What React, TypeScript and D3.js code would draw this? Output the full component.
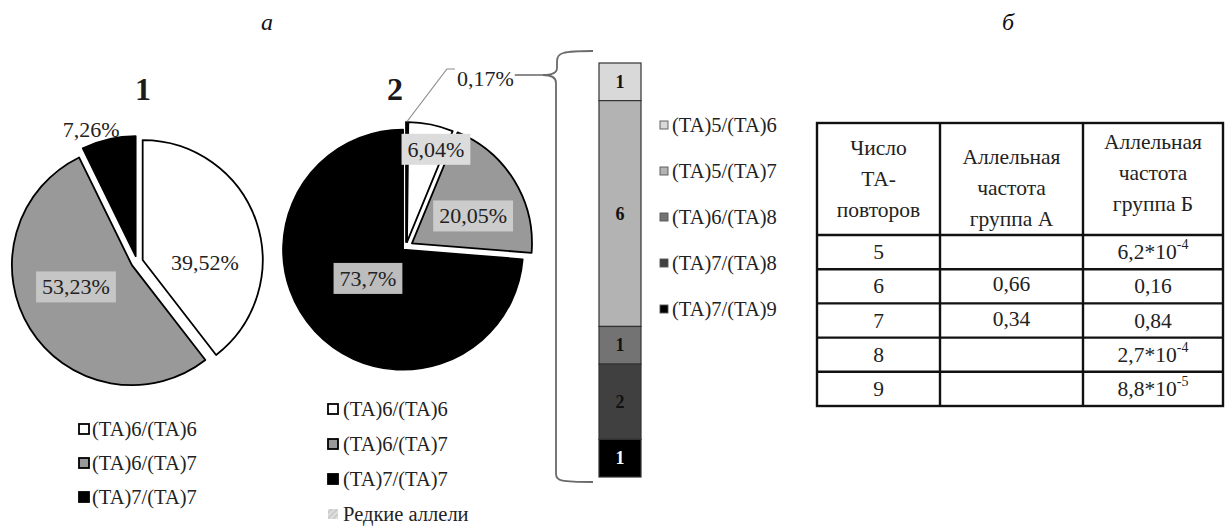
import React from "react";
import * as d3 from "d3";

// ---- data ----
const pie1Labels = ["(TA)6/(TA)6", "(TA)6/(TA)7", "(TA)7/(TA)7"];
const pie1Values = [39.52, 53.23, 7.26];

const pie2Labels = ["Редкие аллели", "(TA)6/(TA)6", "(TA)6/(TA)7", "(TA)7/(TA)7"];
const pie2Values = [0.17, 6.04, 20.05, 73.7];

const rareLabels = ["(TA)5/(TA)6", "(TA)5/(TA)7", "(TA)6/(TA)8", "(TA)7/(TA)8", "(TA)7/(TA)9"];
const rareCounts = [1, 6, 1, 2, 1];

const tableHeaders = [
  ["Число", "ТА-", "повторов"],
  ["Аллельная", "частота", "группа А"],
  ["Аллельная", "частота", "группа Б"],
];
const repeatCounts = ["5", "6", "7", "8", "9"];
const freqGroupA = ["", "0,66", "0,34", "", ""];
const freqGroupB: [string, string][] = [
  ["6,2*10", "-4"],
  ["0,16", ""],
  ["0,84", ""],
  ["2,7*10", "-4"],
  ["8,8*10", "-5"],
];

// ---- layout / style ----
const W = 1228;
const H = 529;
const SERIF = "'Liberation Serif', 'Times New Roman', serif";
const R = 120;
const INK = "#222";

const pie1Layout = {
  cx: 137, cy: 262,
  explode: [6, 6, 6],
  fills: ["#ffffff", "#999999", "#000000"],
  labelShift: [[5.5, 22.3], [-5, -10], [-31, -68]],
  labelBox: [null, "#c6c6c6", null] as (string | null)[],
};
const pie2Layout = {
  cx: 406, cy: 247,
  explode: [5, 5, 7, 4],
  fills: ["url(#hatch)", "#ffffff", "#999999", "#000000"],
  labelShift: [[79, -104], [17, -34], [10, 4], [9, -12]],
  labelBox: [null, "#dcdcdc", "#cccccc", "#bdbdbd"] as (string | null)[],
};
const barColors = ["#d9d9d9", "#b3b3b3", "#737373", "#404040", "#000000"];
const barTextColors = ["#111", "#111", "#111", "#111", "#ffffff"];

const fmtPct = (v: number) => `${String(v).replace(".", ",")}%`;

let measureCtx: CanvasRenderingContext2D | null = null;
function textWidth(t: string, size: number) {
  if (!measureCtx) measureCtx = document.createElement("canvas").getContext("2d");
  if (!measureCtx) return t.length * size * 0.5;
  measureCtx.font = `${size}px ${SERIF}`;
  return measureCtx.measureText(t).width;
}

type PieLayout = typeof pie1Layout;

function PieChart({ values, layout, skipLabel }: { values: number[]; layout: PieLayout; skipLabel?: number }) {
  const pieGen = d3.pie<number>().sort(null).value((d) => d);
  const arcs = pieGen(values);
  const arcGen = d3.arc<d3.PieArcDatum<number>>().innerRadius(0).outerRadius(R);
  const fs = 22;
  return (
    <g>
      {arcs.map((a, i) => {
        const mid = (a.startAngle + a.endAngle) / 2;
        const ox = layout.cx + Math.sin(mid) * layout.explode[i];
        const oy = layout.cy - Math.cos(mid) * layout.explode[i];
        return (
          <path
            key={i}
            d={arcGen(a) || ""}
            transform={`translate(${ox},${oy})`}
            fill={layout.fills[i]}
            stroke="#000"
            strokeWidth={1.8}
            strokeLinejoin="round"
          />
        );
      })}
      {arcs.map((a, i) => {
        if (i === skipLabel) return null;
        const mid = (a.startAngle + a.endAngle) / 2;
        const ox = layout.cx + Math.sin(mid) * layout.explode[i];
        const oy = layout.cy - Math.cos(mid) * layout.explode[i];
        const [c0, c1] = arcGen.centroid(a);
        const lx = ox + c0 + layout.labelShift[i][0];
        const ly = oy + c1 + layout.labelShift[i][1];
        const label = fmtPct(values[i]);
        const tw = textWidth(label, fs);
        const box = layout.labelBox[i];
        return (
          <g key={`l${i}`}>
            {box && <rect x={lx - tw / 2 - 6} y={ly - 15.5} width={tw + 12} height={31} fill={box} />}
            <text x={lx} y={ly} textAnchor="middle" dominantBaseline="central" fontFamily={SERIF} fontSize={fs} fill={INK}>
              {label}
            </text>
          </g>
        );
      })}
    </g>
  );
}

export default function App() {
  // rare-allele slice of pie 2: leader line to its outside label
  const pieGen = d3.pie<number>().sort(null).value((d) => d);
  const arcs2 = pieGen(pie2Values);
  const arcGen = d3.arc<d3.PieArcDatum<number>>().innerRadius(0).outerRadius(R);
  const rare = arcs2[0];
  const rMid = (rare.startAngle + rare.endAngle) / 2;
  const rox = pie2Layout.cx + Math.sin(rMid) * pie2Layout.explode[0];
  const roy = pie2Layout.cy - Math.cos(rMid) * pie2Layout.explode[0];
  const [rc0, rc1] = arcGen.centroid(rare);
  const rareLx = rox + rc0 + pie2Layout.labelShift[0][0];
  const rareLy = roy + rc1 + pie2Layout.labelShift[0][1];
  const rareEdgeX = rox + Math.sin(rMid) * R;
  const rareEdgeY = roy - Math.cos(rMid) * R;
  const rareText = fmtPct(pie2Values[0]);
  const rareTw = textWidth(rareText, 22);

  // stacked bar of rare genotypes
  const total = d3.sum(rareCounts);
  const yBar = d3.scaleLinear().domain([0, total]).range([63, 477]);
  const cum = [0, ...d3.cumsum(rareCounts)];
  const barX = 599;
  const barW = 42;

  // brace between the rare slice label and the bar
  const braceTipX = 543;
  const braceTipY = rareLy - 3;
  const braceX = 556;
  const braceTop = yBar(0) - 12;
  const braceBottom = yBar(total) + 5;
  const braceEnd = barX - 6;
  const braceD = `M${braceEnd},${braceTop} C${braceX + 6},${braceTop} ${braceX + 1},${braceTop + 2} ${braceX + 1},${braceTop + 10}
    L${braceX + 1},${braceTipY - 7} C${braceX + 1},${braceTipY - 2} ${braceX - 5},${braceTipY} ${braceTipX},${braceTipY}
    C${braceX - 5},${braceTipY} ${braceX},${braceTipY + 2} ${braceX},${braceTipY + 8}
    L${braceX},${braceBottom - 8} C${braceX},${braceBottom - 1} ${braceX + 5},${braceBottom} ${braceEnd},${braceBottom}`;

  // table
  const colX = [817, 940, 1083, 1223];
  const headTop = 123;
  const headBottom = 235;
  const rowH = 34.2;
  const rowY = (i: number) => headBottom + i * rowH;
  const tableBottom = rowY(repeatCounts.length);
  const headLineGap = 31;
  const headCenters = [179, 188, 173];
  const tfs = 21.5;

  return (
    <div style={{ position: "absolute", left: 0, top: 0 }}>
      <svg width={W} height={H} viewBox={`0 0 ${W} ${H}`} style={{ display: "block", background: "#fff" }}>
        <defs>
          <pattern id="hatch" width="4" height="4" patternUnits="userSpaceOnUse" patternTransform="rotate(45)">
            <rect width="4" height="4" fill="#cfcfcf" />
            <line x1="0" y1="0" x2="0" y2="4" stroke="#f2f2f2" strokeWidth="1.5" />
          </pattern>
        </defs>

        {/* panel letters */}
        <text x={267} y={30} textAnchor="middle" fontFamily={SERIF} fontStyle="italic" fontSize={24} fill="#111">а</text>
        <text x={1008} y={30} textAnchor="middle" fontFamily={SERIF} fontStyle="italic" fontSize={24} fill="#111">б</text>

        {/* pie titles */}
        <text x={143} y={89} textAnchor="middle" dominantBaseline="central" fontFamily={SERIF} fontWeight="bold" fontSize={32} fill="#1a1a1a">1</text>
        <text x={395} y={89} textAnchor="middle" dominantBaseline="central" fontFamily={SERIF} fontWeight="bold" fontSize={32} fill="#1a1a1a">2</text>

        <PieChart values={pie1Values} layout={pie1Layout} />
        <PieChart values={pie2Values} layout={pie2Layout} skipLabel={0} />

        {/* rare slice label and leader */}
        <polyline
          points={`${rareEdgeX},${rareEdgeY} ${rareLx - rareTw / 2 - 10},${rareLy - 9} ${rareLx - rareTw / 2 - 2},${rareLy - 9}`}
          fill="none"
          stroke="#8c8c8c"
          strokeWidth={1.2}
        />
        <text x={rareLx} y={rareLy} textAnchor="middle" dominantBaseline="central" fontFamily={SERIF} fontSize={22} fill={INK}>
          {rareText}
        </text>
        <line x1={rareLx + rareTw / 2 + 1} y1={braceTipY} x2={braceTipX} y2={braceTipY} stroke="#666" strokeWidth={1.5} />
        <path d={braceD} fill="none" stroke="#6a6a6a" strokeWidth={1.8} />

        {/* stacked bar */}
        {rareCounts.map((c, i) => {
          const y0 = yBar(cum[i]);
          const y1 = yBar(cum[i + 1]);
          return (
            <g key={i}>
              <rect x={barX} y={y0} width={barW} height={y1 - y0} fill={barColors[i]} stroke="#333" strokeWidth={1.2} />
              <text x={barX + barW / 2} y={(y0 + y1) / 2} textAnchor="middle" dominantBaseline="central" fontFamily={SERIF} fontWeight="bold" fontSize={18} fill={barTextColors[i]}>
                {c}
              </text>
            </g>
          );
        })}

        {/* bar legend */}
        {rareLabels.map((t, i) => {
          const y = 125 + i * 46;
          return (
            <g key={t}>
              <rect x={660} y={y - 4} width={8} height={8} fill={barColors[i]} stroke="#555" strokeWidth={0.9} />
              <text x={672} y={y} dominantBaseline="central" fontFamily={SERIF} fontSize={20.5} fill={INK}>{t}</text>
            </g>
          );
        })}

        {/* pie 1 legend */}
        {pie1Labels.map((t, i) => {
          const y = 429 + i * 34;
          return (
            <g key={t}>
              <rect x={79} y={y - 5} width={10} height={10} fill={pie1Layout.fills[i]} stroke="#000" strokeWidth={1.8} />
              <text x={92} y={y} dominantBaseline="central" fontFamily={SERIF} fontSize={20.5} fill={INK}>{t}</text>
            </g>
          );
        })}

        {/* pie 2 legend (rare alleles listed last) */}
        {[1, 2, 3, 0].map((idx, i) => {
          const y = 409 + i * 35;
          const isRare = idx === 0;
          return (
            <g key={pie2Labels[idx]}>
              <rect x={328} y={y - 5} width={10} height={10} fill={pie2Layout.fills[idx]} stroke={isRare ? "none" : "#000"} strokeWidth={1.8} />
              <text x={343} y={y} dominantBaseline="central" fontFamily={SERIF} fontSize={20.5} fill={INK}>{pie2Labels[idx]}</text>
            </g>
          );
        })}

        {/* table */}
        <g fontFamily={SERIF} fontSize={tfs} fill={INK}>
          {tableHeaders.map((lines, c) => {
            const cx = (colX[c] + colX[c + 1]) / 2;
            return lines.map((ln, k) => (
              <text key={`h${c}${k}`} x={cx} y={headCenters[c] + (k - 1) * headLineGap} textAnchor="middle" dominantBaseline="central">
                {ln}
              </text>
            ));
          })}
          {repeatCounts.map((n, r) => {
            const cy = rowY(r) + rowH / 2;
            const [base, sup] = freqGroupB[r];
            return (
              <g key={n}>
                <text x={(colX[0] + colX[1]) / 2} y={cy} textAnchor="middle" dominantBaseline="central">{n}</text>
                {freqGroupA[r] && (
                  <text x={(colX[1] + colX[2]) / 2} y={cy - 2} textAnchor="middle" dominantBaseline="central">{freqGroupA[r]}</text>
                )}
                <text x={(colX[2] + colX[3]) / 2} y={cy} textAnchor="middle" dominantBaseline="central">
                  {base}
                  {sup && (
                    <tspan fontSize={14} dy={-8}>{sup}</tspan>
                  )}
                </text>
              </g>
            );
          })}
          {/* grid */}
          <rect x={colX[0]} y={headTop} width={colX[3] - colX[0]} height={tableBottom - headTop} fill="none" stroke="#111" strokeWidth={2.4} />
          {colX.slice(1, 3).map((x) => (
            <line key={x} x1={x} y1={headTop} x2={x} y2={tableBottom} stroke="#111" strokeWidth={2.4} />
          ))}
          {d3.range(repeatCounts.length).map((r) => (
            <line key={r} x1={colX[0]} y1={rowY(r)} x2={colX[3]} y2={rowY(r)} stroke="#111" strokeWidth={2.4} />
          ))}
        </g>
      </svg>
    </div>
  );
}
